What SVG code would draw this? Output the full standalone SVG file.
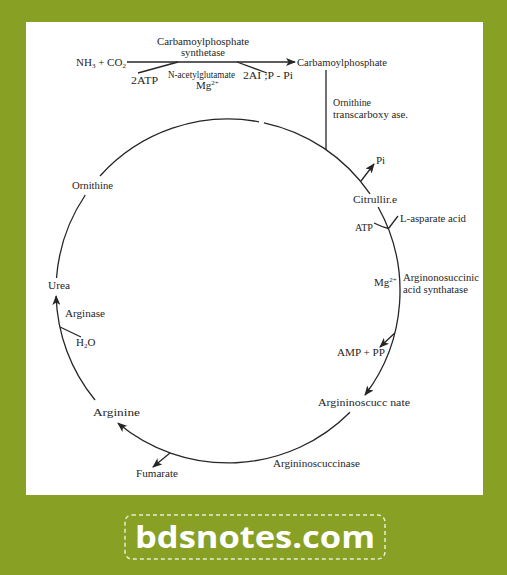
<svg xmlns="http://www.w3.org/2000/svg" width="507" height="575" viewBox="0 0 507 575">
<style>
.t{font-family:"Liberation Serif","Times New Roman",serif;font-size:11px;fill:#262626}
.s{font-size:7px}
.ln{fill:none;stroke:#262626;stroke-width:1.3}
.ar{fill:none;stroke:#262626;stroke-width:1.3;marker-end:url(#ah)}
</style>
<defs>
<marker id="ah" viewBox="0 0 10 8" refX="9" refY="4" markerWidth="10" markerHeight="8" markerUnits="userSpaceOnUse" orient="auto">
<path d="M0,0 L10,4 L0,8 L2.5,4 z" fill="#262626"/>
</marker>
</defs>
<rect width="507" height="575" fill="#88A024"/>
<rect x="26" y="22" width="457" height="473" fill="#ffffff"/>

<g id="connectors">
<path class="ar" d="M127,62 L295,62"/>
<path class="ln" d="M138,73 L178,62"/>
<path class="ln" d="M237,62 L267,73"/>
<path class="ln" d="M326,70 L326,150"/>
<path class="ln" d="M100,176 A172,172 0 0 1 259,121.8"/>
<path class="ln" d="M264,122.8 A172,172 0 0 1 370,193.9"/>
<path class="ar" d="M361,181 L374,164"/>
<path class="ar" d="M378.1,207 A172,172 0 0 1 365,395"/>
<path class="ln" d="M374,223 Q382,227 388.5,228.5"/>
<path class="ln" d="M398,216 L388.5,228.5"/>
<path class="ar" d="M394.8,333 L380,347"/>
<path class="ar" d="M350,412.2 A172,172 0 0 1 118,423.2"/>
<path class="ar" d="M170,452.9 L153,467"/>
<path class="ar" d="M95,400 A172,172 0 0 1 56.1,296"/>
<path class="ln" d="M60,327 L81,337"/>
<path class="ln" d="M56.5,278 A172,172 0 0 1 85.3,195"/>
</g>

<g id="nh3-co2"><text class="t" x="76" y="66">NH<tspan class="s" dy="2">3</tspan><tspan dy="-2"> + CO</tspan><tspan class="s" dy="2">2</tspan></text></g>
<g id="enzyme-cps"><text class="t" x="157" y="45" textLength="92" lengthAdjust="spacingAndGlyphs">Carbamoylphosphate</text><text class="t" x="181" y="56" textLength="44" lengthAdjust="spacingAndGlyphs">synthetase</text></g>
<g id="atp-2"><text class="t" x="131" y="84" textLength="27" lengthAdjust="spacingAndGlyphs">2ATP</text></g>
<g id="cofactors"><text class="t" x="168" y="78" style="font-size:9.5px" textLength="67" lengthAdjust="spacingAndGlyphs">N-acetylglutamate</text><text class="t" x="196" y="89">Mg<tspan class="s" dy="-4">2+</tspan></text></g>
<g id="adp-pi"><text class="t" x="243" y="79" textLength="50" lengthAdjust="spacingAndGlyphs">2AI ;P - Pi</text></g>
<g id="carbamoylphosphate"><text class="t" x="297" y="66" textLength="90" lengthAdjust="spacingAndGlyphs">Carbamoylphosphate</text></g>
<g id="otc"><text class="t" x="333" y="106" textLength="38" lengthAdjust="spacingAndGlyphs">Ornithine</text><text class="t" x="333" y="118" textLength="75" lengthAdjust="spacingAndGlyphs">transcarboxy ase.</text></g>
<g id="pi"><text class="t" x="376" y="164">Pi</text></g>
<g id="citrulline"><text class="t" x="353" y="203" textLength="44" lengthAdjust="spacingAndGlyphs">Citrullir.e</text></g>
<g id="atp"><text class="t" x="355" y="231" textLength="18" lengthAdjust="spacingAndGlyphs">ATP</text></g>
<g id="aspartate"><text class="t" x="400" y="222" textLength="66" lengthAdjust="spacingAndGlyphs">L-asparate acid</text></g>
<g id="mg"><text class="t" x="374" y="286">Mg<tspan class="s" dy="-4">2+</tspan></text></g>
<g id="ass"><text class="t" x="403" y="281" textLength="76" lengthAdjust="spacingAndGlyphs">Arginonosuccinic</text><text class="t" x="403" y="293" textLength="65" lengthAdjust="spacingAndGlyphs">acid synthatase</text></g>
<g id="amp-pp"><text class="t" x="337" y="356" textLength="48" lengthAdjust="spacingAndGlyphs">AMP + PP</text></g>
<g id="argininosuccinate"><text class="t" x="318" y="406" textLength="92" lengthAdjust="spacingAndGlyphs">Argininoscucc nate</text></g>
<g id="argininosuccinase"><text class="t" x="273" y="467" textLength="87" lengthAdjust="spacingAndGlyphs">Argininoscuccinase</text></g>
<g id="fumarate"><text class="t" x="136" y="477" textLength="42" lengthAdjust="spacingAndGlyphs">Fumarate</text></g>
<g id="arginine"><text class="t" x="93" y="416" textLength="47" lengthAdjust="spacingAndGlyphs">Arginine</text></g>
<g id="h2o"><text class="t" x="76" y="346">H<tspan class="s" dy="2">2</tspan><tspan dy="-2">O</tspan></text></g>
<g id="arginase"><text class="t" x="65" y="317" textLength="40" lengthAdjust="spacingAndGlyphs">Arginase</text></g>
<g id="urea"><text class="t" x="48" y="289" textLength="22" lengthAdjust="spacingAndGlyphs">Urea</text></g>
<g id="ornithine"><text class="t" x="72" y="189" textLength="41" lengthAdjust="spacingAndGlyphs">Ornithine</text></g>

<g id="logo">
<rect x="125" y="515" width="260" height="44" rx="7" fill="none" stroke="#e8eccf" stroke-width="1.5" stroke-dasharray="4 3"/>
<text x="135" y="548" font-family="'Open Sans','DejaVu Sans',sans-serif" font-weight="bold" font-size="31" fill="#ffffff" textLength="240" lengthAdjust="spacingAndGlyphs">bdsnotes.com</text>
</g>
</svg>
